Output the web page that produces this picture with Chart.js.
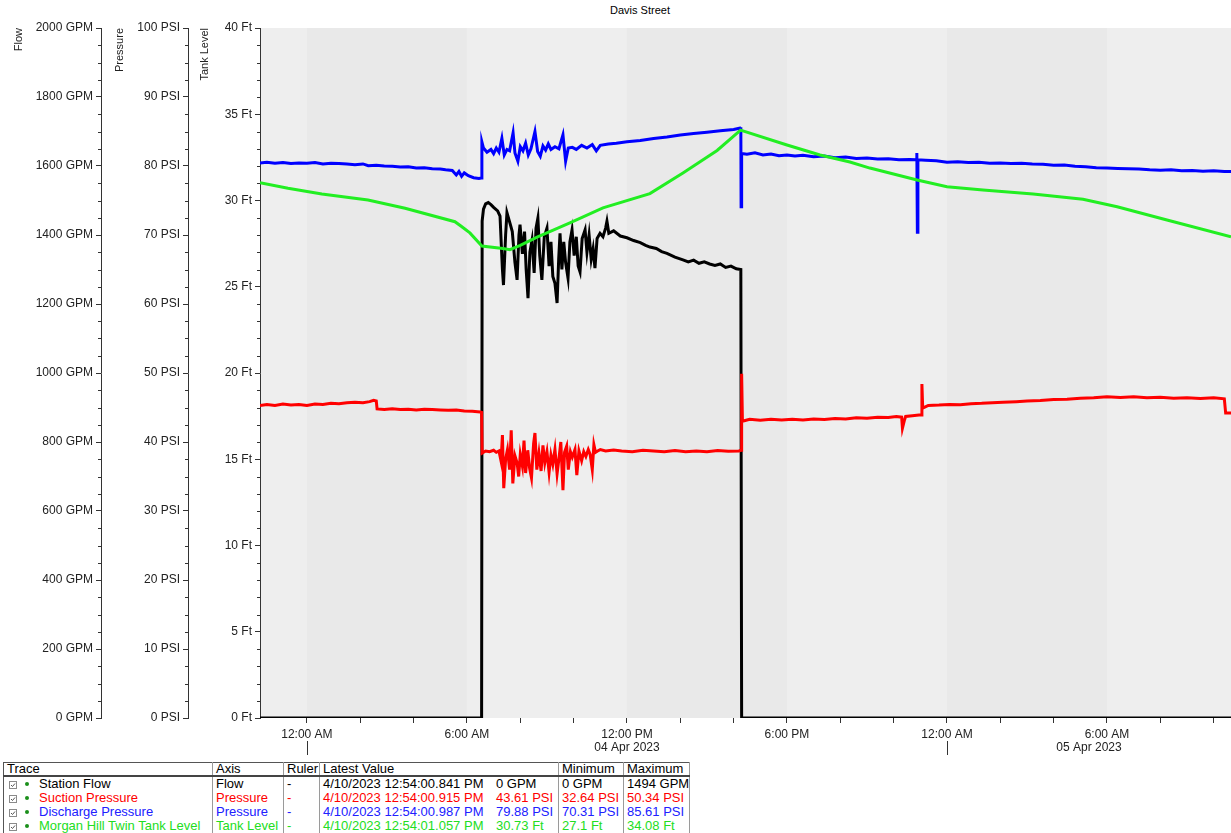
<!DOCTYPE html>
<html>
<head>
<meta charset="utf-8">
<script src="https://cdn.jsdelivr.net/npm/chart.js@4.4.1/dist/chart.umd.min.js"></script>
<style>
  html,body{margin:0;padding:0;background:#fff;}
  body{font-family:"Liberation Sans",Arial,sans-serif;width:1231px;height:833px;overflow:hidden;position:relative;}
  #wrap{position:absolute;left:0;top:0;width:1231px;height:760px;}
  #title{position:absolute;top:4px;left:540px;width:200px;text-align:center;font-size:11px;color:#000;}
  #legend{position:absolute;left:3px;top:762px;border-collapse:collapse;font-size:13px;table-layout:fixed;border-top:1px solid #555;border-left:1px solid #555;}
  #legend td{height:14px;line-height:14px;padding:0 0 0 3px;white-space:nowrap;overflow:hidden;border-right:1px solid #9a9a9a;}
  #legend tr.hdr td{height:12px;line-height:12px;border-bottom:2px solid #444;color:#000;}
  #legend tr:last-child td{border-bottom:1px solid #bbb;}
  .cb{display:inline-block;vertical-align:-1px;margin:0 8px 0 2px;}
  .dot{display:inline-block;width:4px;height:4px;border-radius:2px;background:#1b8f1b;margin-right:10px;vertical-align:2px;}
  .lt{display:inline-block;width:173px;}
</style>
</head>
<body>
<div id="title">Davis Street</div>
<div id="wrap"><canvas id="c"></canvas></div>
<table id="legend"></table>
<script>
// ---- time axis (hours from 04 Apr 2023 00:00) ----
const xMin = -1.76;
const xMax = 34.65;
const hourLabels = {0:'12:00 AM', 6:'6:00 AM', 12:'12:00 PM', 18:'6:00 PM'};
const dayStarts = [0, 24];
const dayLabels = ['04 Apr 2023', '05 Apr 2023'];
const darkBands = [[0,6],[12,18],[24,30]];

// ---- series: [hour, value] ----
const stationFlow = [
  [-1.76,0],[6.55,0],[6.57,1440],[6.62,1475],[6.7,1490],[6.8,1494],[6.9,1488],[7.0,1480],[7.15,1470],[7.24,1455],
  [7.33,1300],[7.37,1255],[7.45,1400],[7.5,1465],[7.61,1435],[7.7,1410],[7.8,1320],[7.88,1270],[7.95,1400],[7.99,1430],
  [8.08,1345],[8.16,1410],[8.22,1300],[8.29,1217],[8.36,1350],[8.44,1385],[8.52,1290],[8.59,1420],[8.66,1449],[8.73,1340],
  [8.81,1270],[8.9,1395],[9.0,1420],[9.08,1310],[9.15,1380],[9.22,1280],[9.3,1260],[9.38,1203],[9.44,1330],[9.49,1405],
  [9.56,1300],[9.63,1380],[9.7,1320],[9.79,1275],[9.86,1380],[9.94,1415],[10.02,1340],[10.1,1395],[10.17,1310],[10.24,1293],
  [10.32,1390],[10.43,1415],[10.5,1350],[10.58,1400],[10.66,1330],[10.73,1360],[10.8,1304],[10.88,1390],[10.99,1405],[11.1,1395],
  [11.2,1420],[11.25,1440],[11.32,1405],[11.5,1412],[11.75,1397],[12.0,1392],[12.25,1384],[12.5,1378],[12.7,1370],[12.86,1365],
  [13.1,1361],[13.3,1352],[13.5,1347],[13.8,1336],[14.1,1328],[14.3,1322],[14.5,1327],[14.7,1318],[14.9,1322],[15.1,1316],
  [15.3,1312],[15.5,1316],[15.7,1306],[15.9,1310],[16.1,1302],[16.27,1300],[16.3,0],[34.65,0]
];
const suctionPressure = [
  [-1.76,45.3],[-1.5,45.45],[-1.2,45.3],[-0.9,45.5],[-0.6,45.35],[-0.3,45.45],[0,45.3],[0.3,45.5],[0.6,45.45],[0.9,45.6],
  [1.2,45.55],[1.5,45.7],[1.8,45.75],[2.1,45.7],[2.35,45.85],[2.5,46.05],[2.6,45.95],[2.63,44.8],[2.9,44.7],[3.2,44.8],
  [3.5,44.7],[3.8,44.75],[4.1,44.65],[4.4,44.75],[4.7,44.7],[5.0,44.65],[5.3,44.6],[5.6,44.65],[5.9,44.5],[6.2,44.45],
  [6.5,44.35],[6.55,44.3],[6.57,38.4],[6.7,38.7],[6.85,38.6],[7.0,38.8],[7.1,38.5],[7.2,38.7],[7.28,37.2],[7.33,41.0],
  [7.38,33.3],[7.45,37.5],[7.52,38.9],[7.6,36.0],[7.66,41.7],[7.72,34.0],[7.8,38.0],[7.88,37.0],[7.94,35.0],[8.0,38.2],
  [8.08,36.5],[8.14,40.2],[8.2,35.5],[8.28,38.8],[8.35,36.2],[8.42,34.8],[8.5,39.8],[8.55,41.3],[8.62,36.0],[8.7,38.4],
  [8.78,35.8],[8.85,39.5],[8.92,37.0],[9.0,38.6],[9.08,35.6],[9.15,38.1],[9.22,36.8],[9.3,38.9],[9.38,35.4],[9.45,37.6],
  [9.52,40.0],[9.6,33.0],[9.66,38.5],[9.74,39.4],[9.8,36.0],[9.88,38.6],[9.95,37.8],[10.05,38.9],[10.12,35.2],[10.2,38.7],
  [10.3,37.3],[10.38,38.6],[10.46,37.9],[10.55,38.9],[10.62,38.2],[10.7,36.0],[10.76,39.6],[10.82,38.5],[10.9,38.7],[11.0,38.9],
  [11.2,38.7],[11.5,38.85],[11.8,38.7],[12.2,38.6],[12.6,38.8],[13.0,38.7],[13.4,38.6],[13.8,38.75],[14.2,38.6],[14.6,38.7],
  [15.0,38.6],[15.4,38.75],[15.8,38.65],[16.2,38.7],[16.28,38.8],[16.3,49.9],[16.33,43.0],[16.6,43.3],[17.0,43.15],[17.4,43.3],
  [17.8,43.2],[18.2,43.3],[18.6,43.2],[19.0,43.35],[19.4,43.25],[19.8,43.4],[20.2,43.35],[20.6,43.5],[21.0,43.45],[21.4,43.6],
  [21.8,43.55],[22.1,43.7],[22.3,43.6],[22.33,42.0],[22.4,43.1],[22.45,43.7],[22.7,43.8],[22.95,43.9],[23.04,43.9],[23.06,48.4],
  [23.09,44.9],[23.3,45.3],[23.7,45.35],[24.1,45.45],[24.5,45.4],[24.9,45.55],[25.3,45.6],[25.7,45.7],[26.1,45.75],[26.6,45.85],
  [27.0,45.95],[27.5,46.0],[28.0,46.15],[28.5,46.2],[29.0,46.35],[29.5,46.4],[30.0,46.55],[30.5,46.45],[31.0,46.55],[31.5,46.4],
  [32.0,46.5],[32.5,46.35],[33.0,46.4],[33.5,46.3],[34.0,46.4],[34.4,46.25],[34.45,44.2],[34.65,44.2]
];
const dischargePressure = [
  [-1.76,80.45],[-1.5,80.55],[-1.2,80.4],[-0.9,80.5],[-0.6,80.35],[-0.3,80.45],[0,80.4],[0.3,80.5],[0.6,80.3],[0.9,80.4],
  [1.2,80.35],[1.5,80.3],[1.8,80.2],[2.1,80.3],[2.3,80.05],[2.6,80.1],[2.9,80.0],[3.2,79.95],[3.5,79.85],[3.8,79.9],
  [4.1,79.7],[4.4,79.75],[4.7,79.6],[5.0,79.55],[5.2,79.45],[5.45,79.35],[5.6,78.7],[5.7,79.2],[5.8,78.5],[5.9,79.0],
  [6.05,78.6],[6.25,78.3],[6.45,78.2],[6.54,78.25],[6.56,83.5],[6.62,82.6],[6.75,82.0],[6.9,82.4],[7.0,81.8],[7.1,82.6],
  [7.2,82.0],[7.31,84.0],[7.4,81.6],[7.5,82.4],[7.6,82.2],[7.73,84.8],[7.8,81.9],[7.91,80.7],[8.0,82.8],[8.1,82.2],
  [8.2,83.3],[8.3,81.6],[8.4,82.5],[8.55,85.0],[8.65,82.1],[8.75,81.4],[8.85,82.9],[8.95,82.3],[9.05,83.2],[9.15,82.4],
  [9.3,82.8],[9.45,82.5],[9.6,84.5],[9.7,80.7],[9.8,82.6],[9.95,82.7],[10.1,82.4],[10.3,83.0],[10.5,82.6],[10.7,83.1],
  [10.85,82.2],[11.0,83.0],[11.3,83.2],[11.6,83.3],[12.0,83.5],[12.5,83.7],[13.0,84.0],[13.5,84.2],[14.0,84.5],[14.5,84.7],
  [15.0,84.9],[15.5,85.1],[16.0,85.3],[16.25,85.5],[16.27,85.6],[16.28,74.1],[16.3,81.8],[16.5,81.7],[16.8,81.9],[17.1,81.6],
  [17.4,81.75],[17.7,81.5],[18.0,81.6],[18.3,81.45],[18.6,81.55],[19.0,81.35],[19.4,81.45],[19.8,81.2],[20.2,81.3],[20.6,81.1],
  [21.0,81.15],[21.4,81.0],[21.8,81.05],[22.2,80.9],[22.6,80.95],[22.85,80.9],[22.87,81.9],[22.89,70.4],[22.91,80.9],[23.2,80.85],
  [23.6,80.75],[24.0,80.55],[24.4,80.6],[24.8,80.5],[25.2,80.55],[25.6,80.4],[26.0,80.45],[26.4,80.35],[26.8,80.4],[27.2,80.3],
  [27.6,80.25],[28.0,80.1],[28.4,80.15],[28.8,79.95],[29.2,79.9],[29.6,79.75],[30.0,79.7],[30.4,79.65],[30.8,79.6],[31.2,79.55],
  [31.6,79.45],[32.0,79.4],[32.4,79.45],[32.8,79.3],[33.2,79.35],[33.6,79.25],[34.0,79.3],[34.4,79.2],[34.65,79.2]
];
const tankLevel = [
  [-1.76,31.03],[-0.71,30.71],[0.56,30.38],[2.29,30.03],[3.68,29.55],[5.55,28.77],[5.81,28.48],[6.11,28.12],[6.56,27.36],[7.35,27.22],
  [7.61,27.15],[8.0,27.4],[8.63,27.88],[9.86,28.70],[11.10,29.57],[12.86,30.4],[14.10,31.6],[15.38,32.9],[16.26,34.08],[18.0,33.22],
  [19.24,32.64],[20.36,32.23],[21.11,31.88],[22.88,31.19],[24.0,30.80],[25.35,30.61],[27.23,30.38],[29.10,30.07],[30.38,29.64],[32.25,28.87],
  [34.65,27.90]
];

// ---- legend table content ----
const traceNames = ['Station Flow','Suction Pressure','Discharge Pressure','Morgan Hill Twin Tank Level'];
const traceAxes = ['Flow','Pressure','Pressure','Tank Level'];
const latestTimes = ['4/10/2023 12:54:00.841 PM','4/10/2023 12:54:00.915 PM','4/10/2023 12:54:00.987 PM','4/10/2023 12:54:01.057 PM'];
const latestValues = ['0 GPM','43.61 PSI','79.88 PSI','30.73 Ft'];
const minValues = ['0 GPM','32.64 PSI','70.31 PSI','27.1 Ft'];
const maxValues = ['1494 GPM','50.34 PSI','85.61 PSI','34.08 Ft'];
const lineColors = ['#000000','#ff0000','#0000ff','#22ee22'];
const textColors = ['#000000','#ff0000','#2020ff','#22dd22'];
const headers = ['Trace','Axis','Ruler','Latest Value','Minimum','Maximum'];
const colWidths = [209,71,36,239,65,65];

const minorSteps = {yFlow:50, yPress:2.5, yTank:1};

const toXY = arr => arr.map(p => ({x:p[0], y:p[1]}));
const FONT = '"Liberation Sans", Arial, sans-serif';
const AX = '#333333';

const bgPlugin = {
  id:'bg',
  beforeDraw(chart){
    const {ctx, chartArea:a, scales:{x}} = chart;
    ctx.save();
    ctx.fillStyle = '#eeeeee';
    ctx.fillRect(a.left, a.top, a.width, a.height);
    ctx.fillStyle = '#e9e9e9';
    darkBands.forEach(b => {
      const l = Math.max(a.left, x.getPixelForValue(b[0]));
      const r = Math.min(a.right, x.getPixelForValue(b[1]));
      if (r > l) ctx.fillRect(l, a.top, r - l, a.height);
    });
    ctx.restore();
  },
  afterDraw(chart){
    const {ctx, scales} = chart;
    ctx.save();
    ctx.strokeStyle = AX; ctx.lineWidth = 1;
    Object.keys(minorSteps).forEach(id => {
      const s = scales[id]; const st = minorSteps[id];
      const major = s.options.ticks.stepSize;
      for (let v = s.min; v <= s.max + 1e-9; v += st) {
        if (Math.abs(v/major - Math.round(v/major)) < 1e-6) continue;
        const y = Math.round(s.getPixelForValue(v)) + 0.5;
        ctx.beginPath(); ctx.moveTo(s.right - 3, y); ctx.lineTo(s.right, y); ctx.stroke();
      }
    });
    const x = scales.x;
    ctx.fillStyle = '#222'; ctx.font = '12px ' + FONT;
    ctx.textAlign = 'center'; ctx.textBaseline = 'middle';
    dayStarts.forEach((d, i) => {
      const a = Math.max(d, x.min), b = Math.min(d + 24, x.max);
      ctx.fillText(dayLabels[i], x.getPixelForValue((a + b) / 2), x.top + 30);
      if (d >= x.min && d <= x.max) {
        const px = Math.round(x.getPixelForValue(d)) + 0.5;
        ctx.beginPath(); ctx.moveTo(px, x.top + 23); ctx.lineTo(px, x.top + 37); ctx.stroke();
      }
    });
    ctx.restore();
  }
};

function yAxis(weight, width, min, max, step, unit, title, tpad){
  return {
    type:'linear', position:'left', weight, min, max,
    afterFit: s => { s.width = width; },
    border:{display:true, color:AX, width:1},
    grid:{drawOnChartArea:false, drawTicks:true, tickLength:5, color:AX},
    ticks:{stepSize:step, autoSkip:false, padding:3, color:'#222', font:{family:FONT, size:12},
      callback: v => v + ' ' + unit},
    title:{display:true, text:title, align:'end', color:'#222', font:{family:FONT, size:11}, padding:{top:tpad, bottom:0}}
  };
}

new Chart(document.getElementById('c'), {
  type:'line',
  data:{
    datasets:[
      {label:traceNames[0], data:toXY(stationFlow), yAxisID:'yFlow', borderColor:lineColors[0], order:4},
      {label:traceNames[1], data:toXY(suctionPressure), yAxisID:'yPress', borderColor:lineColors[1], order:3},
      {label:traceNames[2], data:toXY(dischargePressure), yAxisID:'yPress', borderColor:lineColors[2], order:2},
      {label:traceNames[3], data:toXY(tankLevel), yAxisID:'yTank', borderColor:lineColors[3], order:1}
    ]
  },
  options:{
    responsive:true, maintainAspectRatio:false, animation:false,
    layout:{padding:{top:28, right:0, bottom:0, left:0}},
    elements:{line:{borderWidth:3, tension:0, fill:false, borderJoinStyle:'miter'}, point:{radius:0, hoverRadius:0}},
    plugins:{legend:{display:false}, tooltip:{enabled:false}, title:{display:false}},
    scales:{
      x:{
        type:'linear', min:xMin, max:xMax,
        afterFit: s => { s.height = 42; },
        border:{display:false},
        grid:{drawOnChartArea:false, drawTicks:true, tickLength:5, color:AX},
        ticks:{stepSize:2, includeBounds:false, autoSkip:false, maxRotation:0, padding:4, color:'#222',
          font:{family:FONT, size:12},
          callback: v => { const h = ((v % 24) + 24) % 24; return (h in hourLabels) ? hourLabels[h] : ''; }}
      },
      yFlow: yAxis(3, 101, 0, 2000, 200, 'GPM', 'Flow', 12),
      yPress: yAxis(2, 87, 0, 100, 10, 'PSI', 'Pressure', 12),
      yTank: yAxis(1, 72, 0, 40, 5, 'Ft', 'Tank Level', 10)
    }
  },
  plugins:[bgPlugin]
});

// ---- legend table ----
const tbl = document.getElementById('legend');
const cg = document.createElement('colgroup');
colWidths.forEach(w => { const c = document.createElement('col'); c.style.width = w + 'px'; cg.appendChild(c); });
tbl.appendChild(cg);
const hr = document.createElement('tr'); hr.className = 'hdr';
headers.forEach(h => { const td = document.createElement('td'); td.textContent = h; hr.appendChild(td); });
tbl.appendChild(hr);
const cbSvg = '<svg class="cb" width="8" height="8"><rect x="0.5" y="0.5" width="7" height="7" fill="#fff" stroke="#8a8a8a"/><path d="M2 4 L3.5 5.5 L6 2.5" stroke="#555" stroke-width="1" fill="none"/></svg>';
traceNames.forEach((n, i) => {
  const tr = document.createElement('tr');
  tr.style.color = textColors[i];
  tr.innerHTML =
    '<td>' + cbSvg + '<span class="dot"></span>' + n + '</td>' +
    '<td>' + traceAxes[i] + '</td>' +
    '<td>-</td>' +
    '<td><span class="lt">' + latestTimes[i] + '</span>' + latestValues[i] + '</td>' +
    '<td>' + minValues[i] + '</td>' +
    '<td>' + maxValues[i] + '</td>';
  tbl.appendChild(tr);
});
</script>
</body>
</html>
